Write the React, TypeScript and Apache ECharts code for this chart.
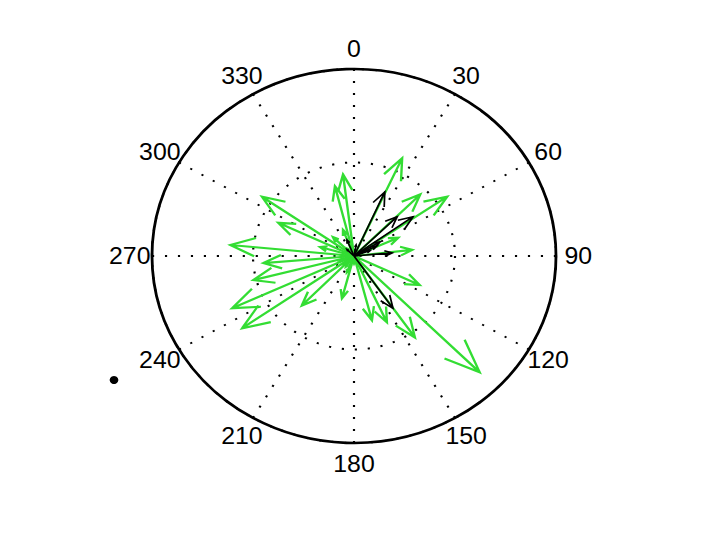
import React, { useEffect, useRef } from 'react';
import * as echarts from 'echarts';

// Compass plot data: bearing in degrees (0 = north, clockwise), length in axis units (outer ring = 2)
const greenAngles = [135, 24.5, 55.5, 44.9, 83.5, 66, 115.5, 145.3, 155.3, 165.5, 194.7, 224.3, 235.1, 245.2, 255.5, 265.2, 275.5, 295.3, 304.8, 345.8, 352.9, 338.7, 286, 202, 314, 200, 250, 290, 230, 180, 320, 215, 270];
const greenLengths = [1.76, 1.15, 1.12, 0.93, 0.58, 0.48, 0.72, 1.06, 0.78, 0.71, 0.47, 0.74, 1.35, 1.33, 1.03, 0.9, 1.23, 0.83, 1.11, 0.77, 0.88, 0.3, 0.35, 0.19, 0.29, 0.12, 0.15, 0.1, 0.13, 0.08, 0.1, 0.14, 0.12];
const blackAngles = [24, 45.5, 54.3, 59.6, 85, 145.4, 338, 64.7, 70, 10, 315];
const blackLengths = [0.75, 0.6, 0.72, 0.3, 0.38, 0.68, 0.185, 0.25, 0.17, 0.12, 0.1];
const angleTicks = [0, 30, 60, 90, 120, 150, 180, 210, 240, 270, 300, 330];
const angleTickLabels = ['0', '30', '60', '90', '120', '150', '180', '210', '240', '270', '300', '330'];
const LABEL_RADIUS = 2.22; // labels centred just outside the outer ring (max 2)

// the reference figure is stretched horizontally (ellipse 202 x 187 px)
const STRETCH_X = 202 / 187;
const CX = 354;
const CY = 256;

function arrowRenderer(color: string, width: number) {
  return (params: any, api: any) => {
    const r = api.value(0);
    const a = api.value(1);
    const p0 = api.coord([0, a]);
    const p1 = api.coord([r, a]);
    const dx = p1[0] - p0[0];
    const dy = p1[1] - p0[1];
    const b1 = [p0[0] + 0.8 * dx - 0.08 * dy, p0[1] + 0.8 * dy + 0.08 * dx];
    const b2 = [p0[0] + 0.8 * dx + 0.08 * dy, p0[1] + 0.8 * dy - 0.08 * dx];
    return {
      type: 'polyline',
      shape: { points: [p0, p1, b1, p1, b2] },
      style: { stroke: color, fill: 'none', lineWidth: width, lineJoin: 'miter' },
    };
  };
}

function labelRenderer(params: any, api: any) {
  const p = api.coord([api.value(0), api.value(1)]);
  return {
    type: 'text',
    x: p[0],
    y: p[1],
    style: {
      text: angleTickLabels[params.dataIndex],
      align: 'center',
      verticalAlign: 'middle',
      textAlign: 'center',
      textVerticalAlign: 'middle',
      fill: '#000',
      fontSize: 23,
      fontFamily: 'Liberation Sans, Arial, sans-serif',
    },
  };
}

export default function App() {
  const ref = useRef<HTMLDivElement>(null);
  useEffect(() => {
    if (!ref.current) return;
    const chart = echarts.init(ref.current, null, { renderer: 'svg' });
    const greenData = greenLengths.map((r, i) => [r, greenAngles[i]]);
    const blackData = blackLengths.map((r, i) => [r, blackAngles[i]]);
    const labelData = angleTicks.map((a) => [LABEL_RADIUS, a]);
    chart.setOption({
      animation: false,
      backgroundColor: '#ffffff',
      polar: { center: [CX, CY], radius: 187 },
      angleAxis: {
        type: 'value',
        min: 0,
        max: 360,
        interval: 30,
        startAngle: 90,
        clockwise: true,
        axisLine: { show: true, lineStyle: { color: '#000', width: 2.6 } },
        axisTick: { show: false },
        axisLabel: { show: false },
        splitLine: { show: true, lineStyle: { color: '#000', width: 2, type: [2, 10] } },
      },
      radiusAxis: {
        type: 'value',
        min: 0,
        max: 2,
        interval: 1,
        axisLine: { show: false },
        axisTick: { show: false },
        axisLabel: { show: false },
        splitLine: { show: true, lineStyle: { color: '#000', width: 2, type: [2, 10] } },
      },
      graphic: [
        { type: 'circle', shape: { cx: CX + (114 - CX) / STRETCH_X, cy: 380, r: 4 }, style: { fill: '#000' } },
      ],
      series: [
        {
          type: 'custom',
          coordinateSystem: 'polar',
          renderItem: arrowRenderer('#33dd33', 2.2),
          data: greenData,
          silent: true,
        },
        {
          type: 'custom',
          coordinateSystem: 'polar',
          renderItem: arrowRenderer('#000000', 1.6),
          data: blackData,
          silent: true,
        },
        {
          type: 'custom',
          coordinateSystem: 'polar',
          renderItem: labelRenderer,
          data: labelData,
          silent: true,
          clip: false,
        },
      ],
    });
    return () => chart.dispose();
  }, []);
  return (
    <div
      ref={ref}
      style={{
        position: 'fixed',
        left: 0,
        top: 0,
        width: 720,
        height: 540,
        background: '#fff',
        transform: `scaleX(${STRETCH_X})`,
        transformOrigin: `${CX}px ${CY}px`,
      }}
    />
  );
}
